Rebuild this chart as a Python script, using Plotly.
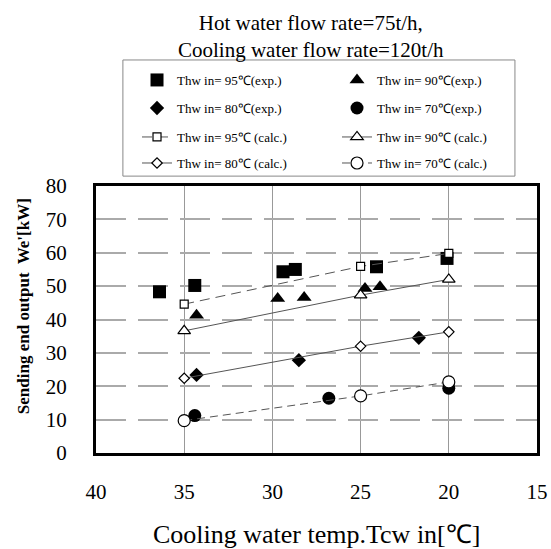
import plotly.graph_objects as go

# ---- data ----
exp95_x = [36.4, 34.4, 29.4, 28.7, 24.1, 20.1]
exp95_y = [48.3, 50.2, 54.3, 55.0, 55.8, 58.3]
exp90_x = [34.3, 29.7, 28.2, 24.75, 23.9]
exp90_y = [41.3, 46.3, 46.6, 49.3, 49.8]
exp80_x = [34.3, 28.5, 21.7]
exp80_y = [23.4, 27.8, 34.5]
exp70_x = [34.4, 26.8, 20.0]
exp70_y = [11.2, 16.4, 19.4]
calc_x = [35, 25, 20]
calc95_y = [44.6, 55.9, 59.8]
calc90_y = [36.6, 47.3, 52.0]
calc80_y = [22.4, 32.0, 36.3]
calc70_y = [9.7, 17.1, 21.3]

names_exp = ["Thw in= 95℃(exp.)", "Thw in= 90℃(exp.)", "Thw in= 80℃(exp.)", "Thw in= 70℃(exp.)"]
names_calc = ["Thw in= 95℃ (calc.)", "Thw in= 90℃ (calc.)", "Thw in= 80℃ (calc.)", "Thw in= 70℃ (calc.)"]

FONT = "Liberation Serif, Times New Roman, serif"

fig = go.Figure()

exp_series = [
    (exp95_x, exp95_y, "square", 13, "legend"),
    (exp90_x, exp90_y, "triangle-up", 13, "legend"),
    (exp80_x, exp80_y, "diamond", 11, "legend2"),
    (exp70_x, exp70_y, "circle", 13, "legend2"),
]
for (xs, ys, sym, sz, lg), nm in zip(exp_series, names_exp):
    fig.add_trace(go.Scatter(
        x=xs, y=ys, mode="markers", name=nm, legend=lg,
        marker=dict(symbol=sym, size=sz, color="black", line=dict(width=0)),
    ))

calc_series = [
    (calc95_y, "square", 8, "10px,6px", "legend3"),
    (calc90_y, "triangle-up", 11, "solid", "legend3"),
    (calc80_y, "diamond", 8, "solid", "legend4"),
    (calc70_y, "circle", 12, "8px,5px", "legend4"),
]
for (ys, sym, sz, dash, lg), nm in zip(calc_series, names_calc):
    fig.add_trace(go.Scatter(
        x=calc_x, y=ys, mode="lines+markers", name=nm, legend=lg,
        line=dict(color="#555555", width=1, dash=dash),
        marker=dict(symbol=sym, size=sz, color="white", line=dict(color="black", width=1.2)),
    ))

legend_common = dict(
    orientation="h", xanchor="left", yanchor="middle", x=0.093,
    bgcolor="rgba(0,0,0,0)", borderwidth=0,
    entrywidth=155, entrywidthmode="pixels",
    font=dict(family=FONT, size=13, color="black"),
)

fig.update_layout(
    width=551, height=549,
    margin=dict(l=96, r=14, t=186, b=96, autoexpand=False),
    paper_bgcolor="white", plot_bgcolor="white",
    font=dict(family=FONT, color="black"),
    legend=dict(legend_common, y=1.397),
    legend2=dict(legend_common, y=1.292),
    legend3=dict(legend_common, y=1.1835),
    legend4=dict(legend_common, y=1.086),
    xaxis=dict(
        range=[40, 15], dtick=5, tick0=15,
        showgrid=True, gridcolor="#999999", gridwidth=1,
        showline=True, linecolor="black", linewidth=3, mirror=True,
        ticks="", ticklabelstandoff=18, zeroline=False,
        tickfont=dict(family=FONT, size=21, color="black"),
    ),
    yaxis=dict(
        range=[0, 80], dtick=10,
        showgrid=True, gridcolor="#aaaaaa", gridwidth=1.5, griddash="30px,12px",
        showline=True, linecolor="black", linewidth=3, mirror=True,
        ticks="", ticklabelstandoff=22, zeroline=False,
        tickfont=dict(family=FONT, size=21, color="black"),
    ),
    shapes=[dict(
        type="rect", xref="paper", yref="paper",
        x0=0.061, x1=0.950, y0=1.037, y1=1.472,
        line=dict(color="#888888", width=1), fillcolor="rgba(0,0,0,0)",
    )],
    annotations=[
        dict(text="Hot water flow rate=75t/h,<br>Cooling water flow rate=120t/h",
             xref="paper", yref="paper", x=0.4875, y=1.664,
             xanchor="center", yanchor="top", showarrow=False,
             font=dict(family=FONT, size=21, color="black")),
        dict(text="Sending end output  We'[kW]", xref="paper", yref="paper",
             x=-0.1655, y=0.55, xanchor="center", yanchor="middle",
             textangle=-90, showarrow=False,
             font=dict(family=FONT, size=17, color="black", weight="bold")),
        dict(text="Cooling water temp.Tcw in[℃]", xref="paper", yref="paper",
             x=0.5, y=-0.305, xanchor="center", yanchor="middle",
             showarrow=False,
             font=dict(family=FONT, size=26, color="black")),
    ],
    showlegend=True,
)

fig.write_html("out.html", config={"displayModeBar": False},
               post_script="document.body.style.margin='0px';document.body.style.overflow='hidden';")
